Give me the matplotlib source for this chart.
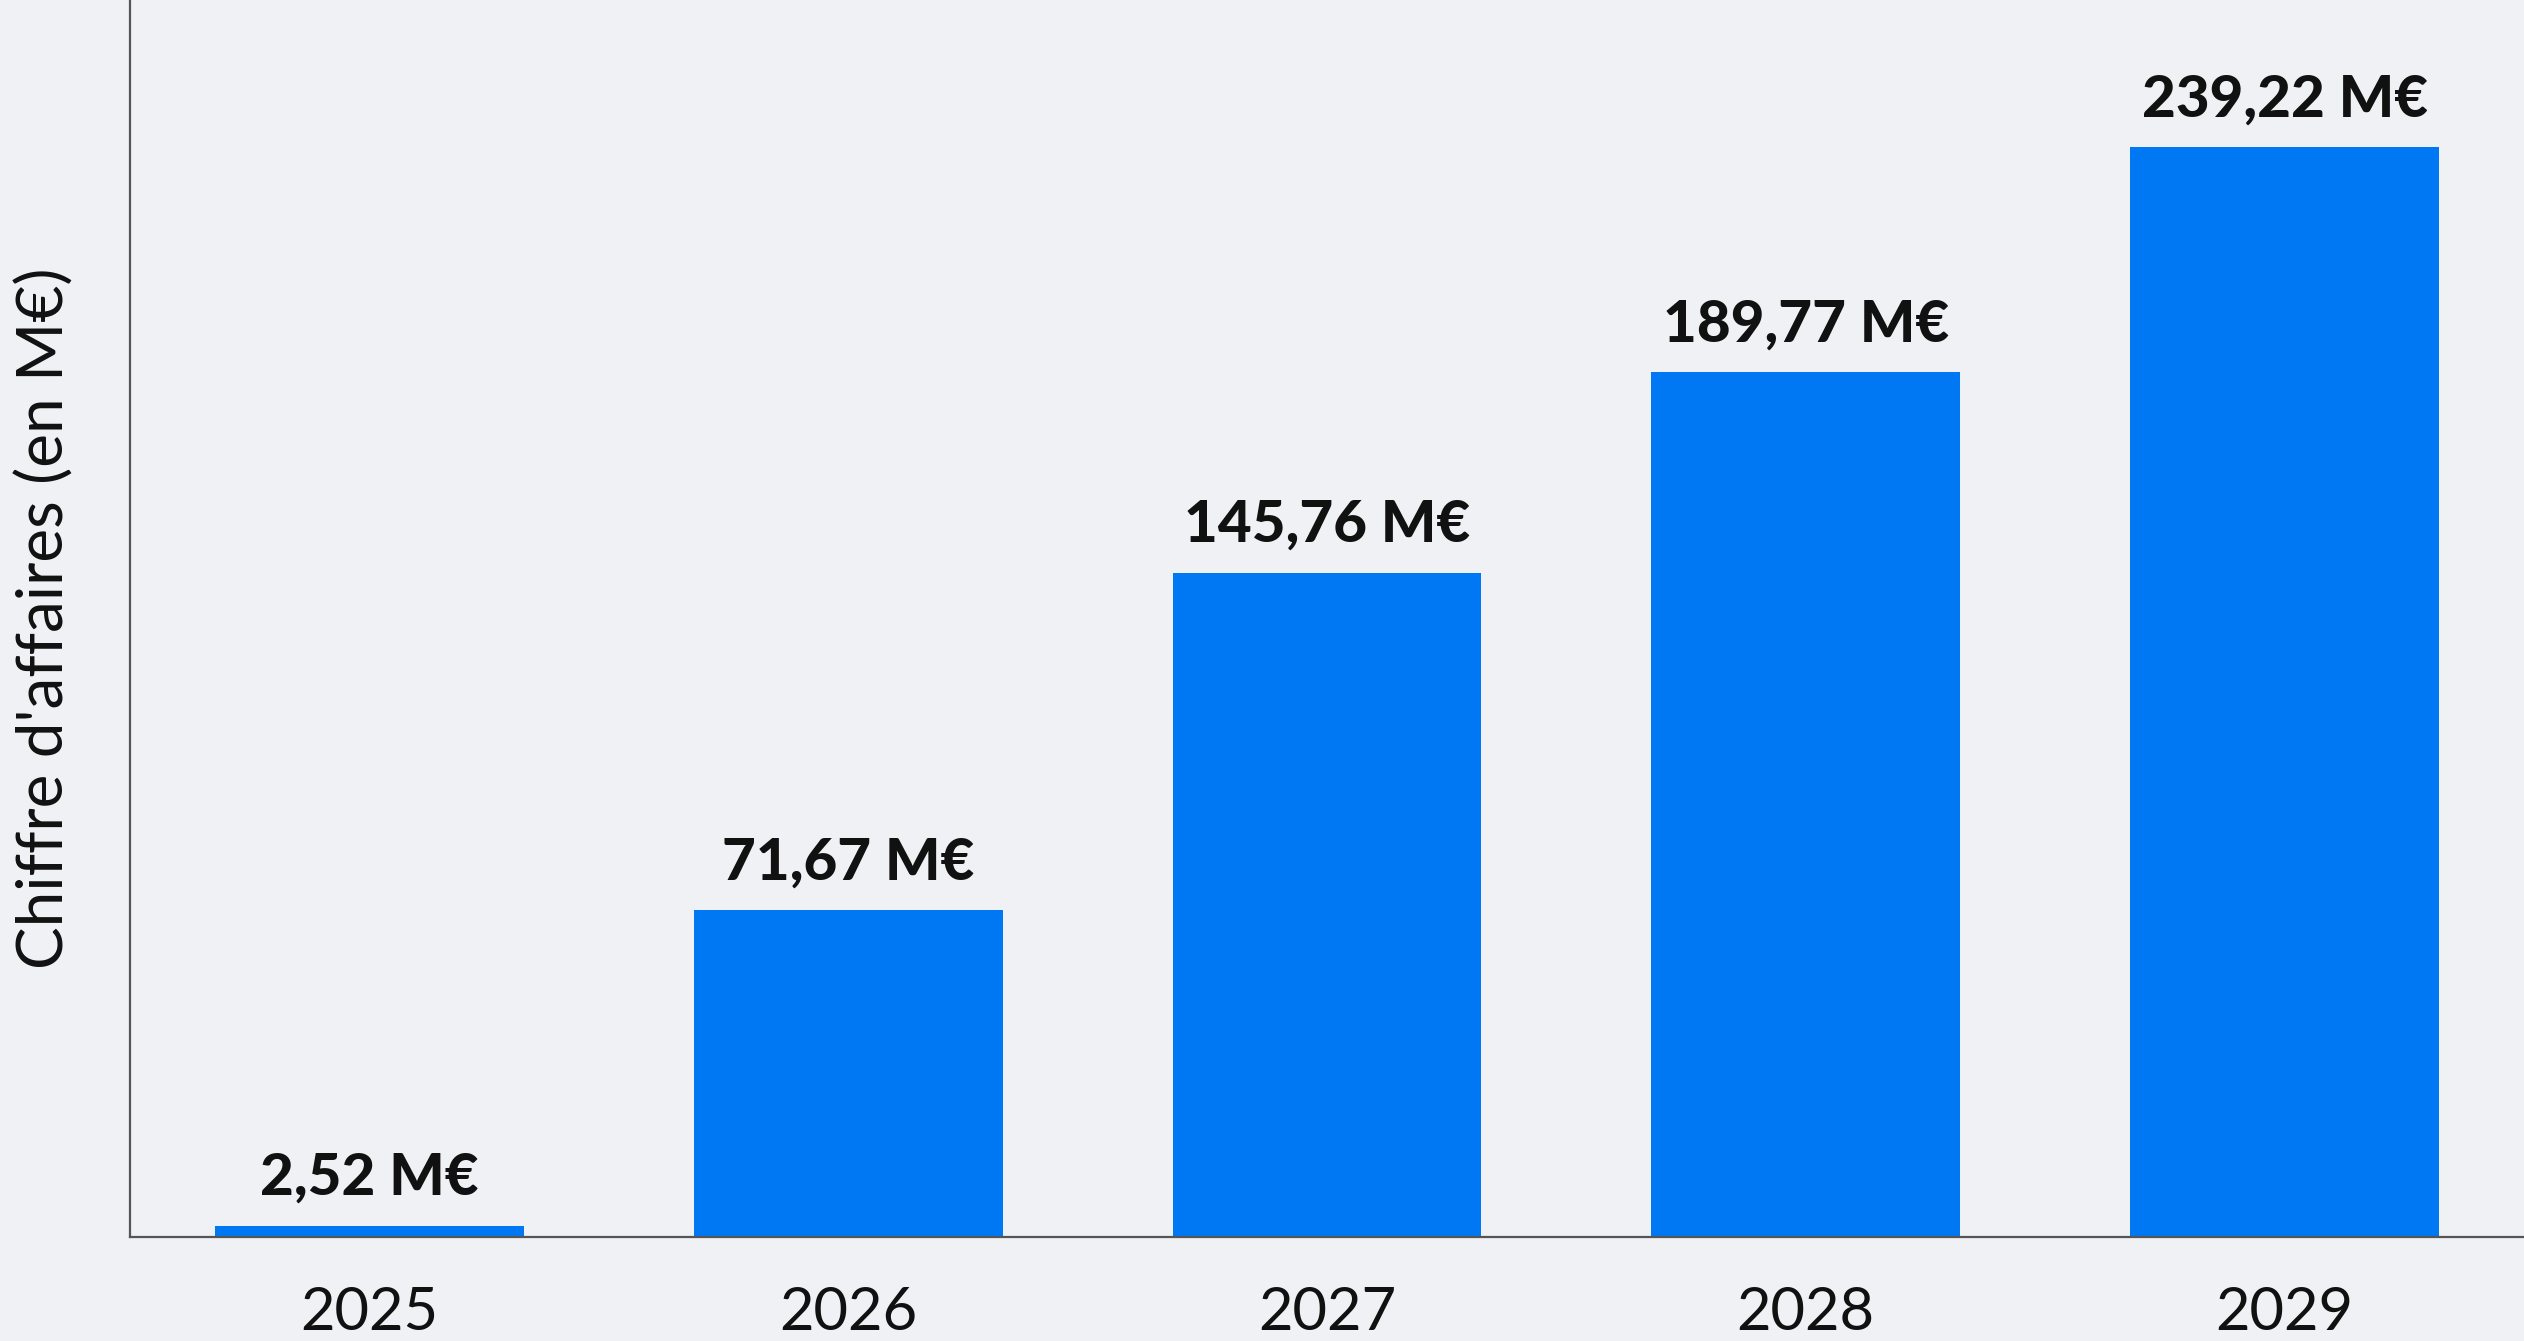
import matplotlib
matplotlib.use("Agg")
import matplotlib.pyplot as plt

years = ["2025", "2026", "2027", "2028", "2029"]
revenue = [2.52, 71.67, 145.76, 189.77, 239.22]
labels = ["2,52 M€", "71,67 M€", "145,76 M€", "189,77 M€", "239,22 M€"]

plt.rcParams['font.family'] = ['Lato', 'DejaVu Sans']

bg = '#F0F1F4'
bar_color = '#0078F4'

fig = plt.figure(figsize=(25.24, 13.41), dpi=100, facecolor=bg)
ax = fig.add_axes([130/2524, (1341-1237)/1341, 1 - 130/2524, 1237/1341])
ax.set_facecolor(bg)

x = list(range(len(years)))
bars = ax.bar(x, revenue, width=0.645, color=bar_color, zorder=2)

for xi, v, lab in zip(x, revenue, labels):
    ax.annotate(lab, (xi, v), xytext=(0, 15), textcoords='offset points',
                ha='center', va='bottom', fontsize=42, fontweight='black', color='#111111')

ax.set_xlim(-0.5, 4.5)
ax.set_ylim(0, 271.5)
ax.set_xticks(x)
ax.set_xticklabels(years, fontsize=43, color='#111111')
ax.tick_params(axis='x', length=0, pad=35)
ax.set_yticks([])
ax.set_ylabel("Chiffre d'affaires (en M€)", fontsize=46, color='#111111', labelpad=40)

for s in ['top', 'right']:
    ax.spines[s].set_visible(False)
for s in ['left', 'bottom']:
    ax.spines[s].set_color('#555555')
    ax.spines[s].set_linewidth(1.6)

fig.savefig('out.png', dpi=100, facecolor=bg)
